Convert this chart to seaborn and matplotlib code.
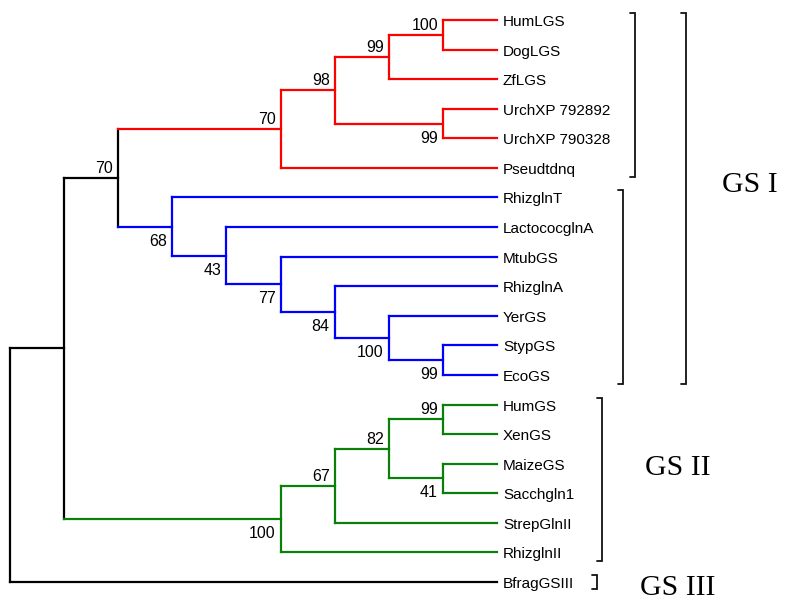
import matplotlib
matplotlib.use("Agg")
import matplotlib.pyplot as plt
import numpy as np
import pandas as pd
import seaborn as sns

# ---------------- data ----------------
leaf_names = ["HumLGS", "DogLGS", "ZfLGS", "UrchXP 792892", "UrchXP 790328",
              "Pseudtdnq", "RhizglnT", "LactococglnA", "MtubGS", "RhizglnA",
              "YerGS", "StypGS", "EcoGS", "HumGS", "XenGS", "MaizeGS",
              "Sacchgln1", "StrepGlnII", "RhizglnII", "BfragGSIII"]
leaf_depth = 9

node_ids = ["root", "A", "B", "C", "D", "E", "F", "G", "H", "I", "J", "K",
            "L", "M", "N", "O", "P", "Q", "R"]
node_children = [
    ["A", "BfragGSIII"],
    ["B", "N"],
    ["C", "H"],
    ["D", "Pseudtdnq"],
    ["E", "G"],
    ["F", "ZfLGS"],
    ["HumLGS", "DogLGS"],
    ["UrchXP 792892", "UrchXP 790328"],
    ["RhizglnT", "I"],
    ["LactococglnA", "J"],
    ["MtubGS", "K"],
    ["RhizglnA", "L"],
    ["YerGS", "M"],
    ["StypGS", "EcoGS"],
    ["O", "RhizglnII"],
    ["P", "StrepGlnII"],
    ["Q", "R"],
    ["HumGS", "XenGS"],
    ["MaizeGS", "Sacchgln1"],
]
node_depth = [0, 1, 2, 5, 6, 7, 8, 8, 3, 4, 5, 6, 7, 8, 5, 6, 7, 8, 8]
node_support = [None, None, 70, 70, 98, 99, 100, 99, 68, 43, 77, 84, 100, 99,
                100, 67, 82, 99, 41]

clade_nodes = ["C", "H", "N"]
clade_colors = ["#ff0000", "#0000ff", "#0a800a"]
base_color = "#000000"

group_labels = ["GS I", "GS II", "GS III"]
bracket_first = [0, 6, 0, 13, 19]
bracket_last = [5, 12, 12, 18, 19]

# ---------------- layout (pixels) ----------------
W, H = 788, 608
x0_px, sx = 10.0, 54.11      # depth 0 at 10 px, 54.11 px per depth level
y0_px, sy = 20.0, 29.58      # first leaf at 20 px, 29.58 px per leaf

def dx(px):
    return px / sx

def dy(px):
    return px / sy

# ---------------- tree geometry ----------------
children = dict(zip(node_ids, node_children))
depth = dict(zip(node_ids, node_depth))
support = dict(zip(node_ids, node_support))
for nm in leaf_names:
    depth[nm] = leaf_depth
leaf_y = {nm: i for i, nm in enumerate(leaf_names)}

ypos = {}
def get_y(n):
    if n in leaf_y:
        ypos[n] = leaf_y[n]
    else:
        ys = [get_y(c) for c in children[n]]
        ypos[n] = (min(ys) + max(ys)) / 2.0
    return ypos[n]
get_y("root")

color = {}
def paint(n, col):
    if n in clade_nodes:
        col = clade_colors[clade_nodes.index(n)]
    color[n] = col
    for c in children.get(n, []):
        paint(c, col)
paint("root", base_color)

parent = {}
order = {}
for n, ch in children.items():
    for k, c in enumerate(ch):
        parent[c] = n
        order[c] = k

rows = []
seg = 0
for n in list(node_ids) + leaf_names:
    if n in parent:
        p = parent[n]
        rows += [dict(x=depth[p], y=ypos[n], seg=seg, color=color[n]),
                 dict(x=depth[n], y=ypos[n], seg=seg, color=color[n])]
        seg += 1
    if n in children:
        ys = [ypos[c] for c in children[n]]
        rows += [dict(x=depth[n], y=min(ys), seg=seg, color=color[n]),
                 dict(x=depth[n], y=max(ys), seg=seg, color=color[n])]
        seg += 1
df = pd.DataFrame(rows)

# ---------------- plot ----------------
sns.set_theme(style="white")
plt.rcParams["font.family"] = ["Liberation Sans", "DejaVu Sans"]

fig = plt.figure(figsize=(W / 100, H / 100), dpi=100)
ax = fig.add_axes([0, 0, 1, 1])
ax.set_xlim(-dx(x0_px), dx(W - x0_px))
ax.set_ylim(dy(H - y0_px), -dy(y0_px))
ax.axis("off")

palette = {c: c for c in df["color"].unique()}
sns.lineplot(data=df, x="x", y="y", units="seg", hue="color", palette=palette,
             estimator=None, sort=False, legend=False, linewidth=1.6,
             solid_capstyle="projecting", ax=ax)

# leaf labels
for nm in leaf_names:
    ax.text(leaf_depth + dx(6), leaf_y[nm] + dy(6), nm, ha="left",
            va="baseline", fontsize=11, color="#000000",
            family=["Liberation Sans", "DejaVu Sans"])

# bootstrap values
for n in node_ids:
    s = support[n]
    if s is None:
        continue
    if order[n] == 0:
        ty = ypos[n] - dy(5)
    else:
        ty = ypos[n] + dy(19)
    ax.text(depth[n] - dx(5), ty, str(s), ha="right", va="baseline",
            fontsize=11.5, color="#000000",
            family=["Liberation Sans Narrow", "Liberation Sans", "DejaVu Sans"])

# brackets
bracket_x_px = [635, 623, 686, 602, 597]
for f, l, bx in zip(bracket_first, bracket_last, bracket_x_px):
    top = f - dy(7)
    bot = l + (dy(9) if f != l else dy(7))
    xb = dx(bx - x0_px)
    t = dx(5)
    ax.plot([xb - t, xb, xb, xb - t], [top, top, bot, bot], color="#111111",
            lw=1.3, solid_joinstyle="miter")

# group labels
group_pos_px = [(722, 192), (645, 475), (640, 595)]
for lab, (gx, gy) in zip(group_labels, group_pos_px):
    ax.text(dx(gx - x0_px), dy(gy - y0_px), lab, ha="left", va="baseline",
            fontsize=21.5, color="#000000",
            family=["Liberation Serif", "DejaVu Serif"])

fig.savefig("out.png", dpi=100)
